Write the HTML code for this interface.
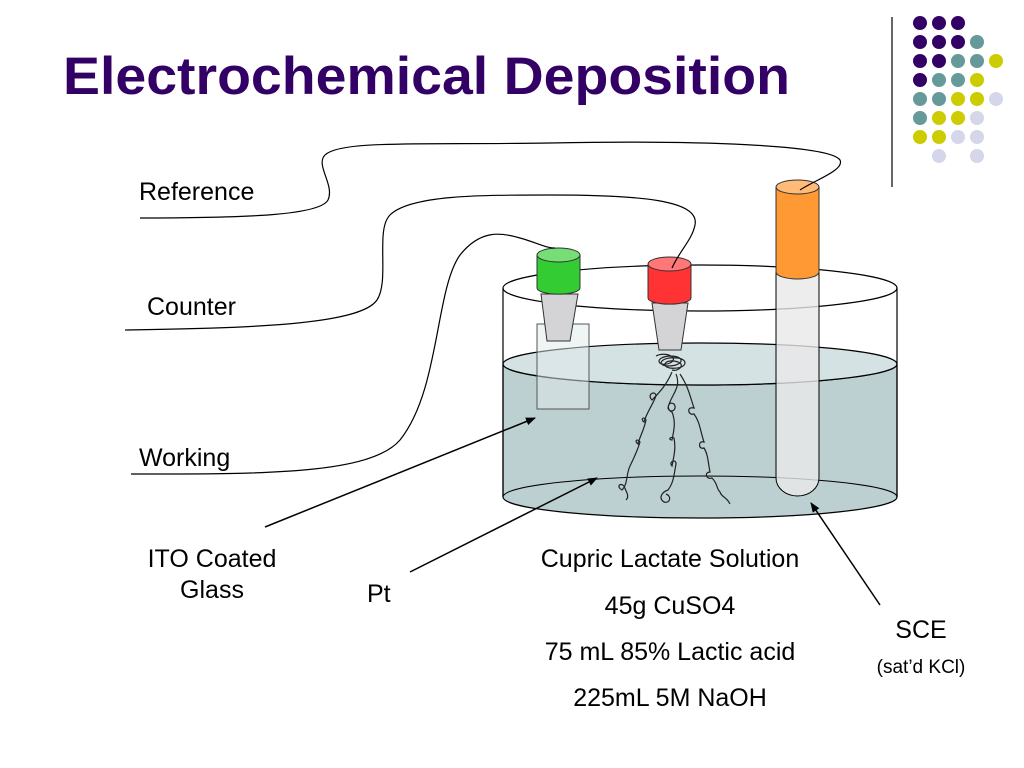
<!DOCTYPE html>
<html><head><meta charset="utf-8"><style>
body{margin:0;background:#fff;}
svg{display:block;font-family:"Liberation Sans",Arial,sans-serif;}
</style></head><body>
<svg width="1024" height="768" viewBox="0 0 1024 768" xmlns="http://www.w3.org/2000/svg">
<defs><marker id="ah" markerWidth="10" markerHeight="8" refX="9" refY="4" orient="auto" markerUnits="userSpaceOnUse"><path d="M0,0 L10,4 L0,8z" fill="#000"/></marker></defs>
<text x="63" y="94" font-size="53" font-weight="bold" fill="#330066" textLength="727" lengthAdjust="spacingAndGlyphs">Electrochemical Deposition</text>
<line x1="892" y1="17" x2="892" y2="187" stroke="#333" stroke-width="1.5"/>
<g>
<circle cx="920" cy="23" r="7" fill="#330066"/><circle cx="939" cy="23" r="7" fill="#330066"/><circle cx="958" cy="23" r="7" fill="#330066"/>
<circle cx="920" cy="42" r="7" fill="#330066"/><circle cx="939" cy="42" r="7" fill="#330066"/><circle cx="958" cy="42" r="7" fill="#330066"/><circle cx="977" cy="42" r="7" fill="#669999"/>
<circle cx="920" cy="61" r="7" fill="#330066"/><circle cx="939" cy="61" r="7" fill="#330066"/><circle cx="958" cy="61" r="7" fill="#669999"/><circle cx="977" cy="61" r="7" fill="#669999"/><circle cx="996" cy="61" r="7" fill="#cccc00"/>
<circle cx="920" cy="80" r="7" fill="#330066"/><circle cx="939" cy="80" r="7" fill="#669999"/><circle cx="958" cy="80" r="7" fill="#669999"/><circle cx="977" cy="80" r="7" fill="#cccc00"/>
<circle cx="920" cy="99" r="7" fill="#669999"/><circle cx="939" cy="99" r="7" fill="#669999"/><circle cx="958" cy="99" r="7" fill="#cccc00"/><circle cx="977" cy="99" r="7" fill="#cccc00"/><circle cx="996" cy="99" r="7" fill="#d6d6ea"/>
<circle cx="920" cy="118" r="7" fill="#669999"/><circle cx="939" cy="118" r="7" fill="#cccc00"/><circle cx="958" cy="118" r="7" fill="#cccc00"/><circle cx="977" cy="118" r="7" fill="#d6d6ea"/>
<circle cx="920" cy="137" r="7" fill="#cccc00"/><circle cx="939" cy="137" r="7" fill="#cccc00"/><circle cx="958" cy="137" r="7" fill="#d6d6ea"/><circle cx="977" cy="137" r="7" fill="#d6d6ea"/>
<circle cx="939" cy="156" r="7" fill="#d6d6ea"/><circle cx="977" cy="156" r="7" fill="#d6d6ea"/>
</g>
<!-- beaker -->
<ellipse cx="700" cy="288" rx="197" ry="23" fill="none" stroke="#000" stroke-width="1.2"/>
<path d="M503,364 L503,497 A197,21 0 0 0 897,497 L897,364 A197,21 0 0 1 503,364z" fill="#bccfd1" stroke="#000" stroke-width="1.2"/>
<ellipse cx="700" cy="364" rx="197" ry="21" fill="#d5e2e3" stroke="#000" stroke-width="1.2"/>
<path d="M503,497 A197,21 0 0 1 897,497" fill="none" stroke="#000" stroke-width="1"/>
<line x1="503" y1="288" x2="503" y2="497" stroke="#000" stroke-width="1.2"/>
<line x1="897" y1="288" x2="897" y2="497" stroke="#000" stroke-width="1.2"/>
<!-- glass -->
<rect x="537" y="324" width="52" height="85" fill="#dfeaeb" fill-opacity="0.5" stroke="#555"/>
<!-- green -->
<path d="M541,294 L578,294 L570,341 L547,341z" fill="#d4d4d6" stroke="#333"/>
<path d="M537,255 L537,288 A21,6 0 0 0 580,288 L580,255z" fill="#33cc33" stroke="#333"/>
<ellipse cx="558.5" cy="255" rx="21.5" ry="7" fill="#77dd77" stroke="#333"/>
<!-- red -->
<path d="M652,303 L688,303 L681,350 L659,350z" fill="#d4d4d6" stroke="#333"/>
<path d="M648,264 L648,298 A21,6 0 0 0 691,298 L691,264z" fill="#ff3333" stroke="#333"/>
<ellipse cx="669.5" cy="264" rx="21.5" ry="7" fill="#ff7777" stroke="#333"/>
<!-- Pt coils -->
<g fill="none" stroke="#222" stroke-width="1.2">
<path d="M656,356 c10,-5 24,2 14,7 c-12,5 -17,-6 0,-7 c16,0 14,10 -2,10 c-12,0 -8,-10 10,-8 c12,2 8,12 -8,10 c-10,-2 -4,-10 8,-6 c8,3 0,10 -6,8"/>
<path d="M672,372 c-5,12 -12,20 -20,28 c-6,-6 4,-10 4,-4 c-4,10 -10,18 -12,26 c-4,-3 0,-6 2,-2 c-2,10 -6,16 -8,24 c-4,-3 -1,-6 2,-2 c-3,10 -6,16 -10,24 c-4,8 -2,18 -8,24 c-6,-3 -2,-8 2,-4 c2,6 6,10 2,14"/>
<path d="M676,374 c6,14 -6,22 -8,34 c2,6 10,2 6,-4 c-6,-4 -8,6 -2,8 c4,10 2,18 0,28 c-4,0 -2,-4 2,-2 c2,10 0,18 -2,28 c-4,-4 4,-8 4,-2 c-2,10 -2,18 -8,26 c-6,2 -10,8 -4,12 c6,2 8,-6 2,-8"/>
<path d="M680,374 c8,12 10,22 14,34 c-8,-2 -6,8 0,6 c6,8 6,16 10,28 c-6,-2 -6,8 0,6 c4,6 4,14 6,24 c-6,0 -4,8 2,6 c6,6 4,10 8,14 c2,6 6,4 10,12"/>
</g>
<!-- SCE tube -->
<path d="M776,187 L776,478 A21.5,18 0 0 0 819,478 L819,187z" fill="#e8e8ea" fill-opacity="0.8" stroke="#000"/>
<path d="M776,187 L776,272 A21.5,7 0 0 0 819,272 L819,187z" fill="#ff9933" stroke="#333"/>
<ellipse cx="797.5" cy="187" rx="21.5" ry="7" fill="#ffbb77" stroke="#333"/>
<!-- wires -->
<g fill="none" stroke="#000" stroke-width="1.2">
<path d="M140,218 C250,218 320,215 328,200 C335,185 315,165 325,155 C340,140 420,145 550,143 C700,140 830,145 840,160 C845,170 815,180 800,190"/>
<path d="M125,330 C250,328 360,325 377,300 C390,280 375,230 390,215 C410,195 480,195 550,195 C640,195 700,200 695,225 C692,240 680,250 672,268"/>
<path d="M131,474 C260,474 370,475 400,440 C440,390 435,290 460,255 C480,230 500,232 520,238 C535,242 545,248 555,248"/>
</g>
<!-- arrows -->
<g stroke="#000" stroke-width="1.5">
<line x1="265" y1="527" x2="535" y2="418" marker-end="url(#ah)"/>
<line x1="410" y1="572" x2="597" y2="478" marker-end="url(#ah)"/>
<line x1="880" y1="605" x2="811" y2="503" marker-end="url(#ah)"/>
</g>
<g font-size="25" fill="#000">
<text x="139" y="200">Reference</text>
<text x="147" y="315">Counter</text>
<text x="139" y="466">Working</text>
<text x="212" y="567" text-anchor="middle">ITO Coated</text>
<text x="212" y="598" text-anchor="middle">Glass</text>
<text x="367" y="602">Pt</text>
<text x="670" y="567" text-anchor="middle">Cupric Lactate Solution</text>
<text x="670" y="614" text-anchor="middle">45g CuSO4</text>
<text x="670" y="660" text-anchor="middle">75 mL 85% Lactic acid</text>
<text x="670" y="706" text-anchor="middle">225mL 5M NaOH</text>
<text x="921" y="638" text-anchor="middle">SCE</text>
<text x="921" y="673" text-anchor="middle" font-size="19">(sat’d KCl)</text>
</g>
</svg>
</body></html>
